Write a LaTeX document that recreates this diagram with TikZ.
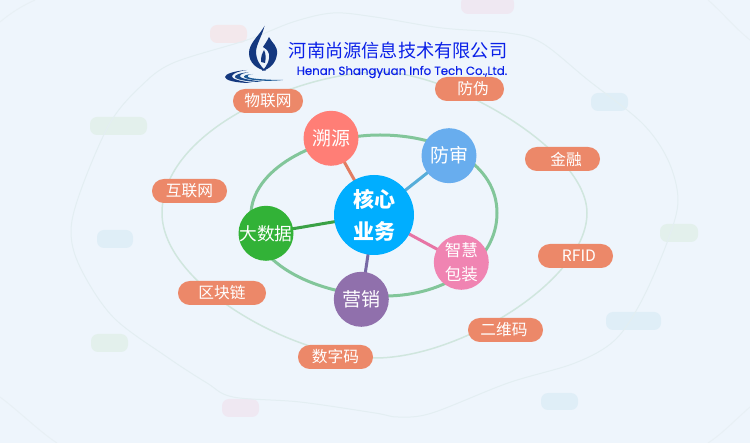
\documentclass[tikz,border=0pt]{standalone}
\usepackage{fontspec}
\setmainfont{Noto Sans CJK SC}
\newfontfamily\logolat[FakeBold=0.35]{Poppins}
\definecolor{bgc}{HTML}{EEF5FC}
\definecolor{pill}{HTML}{EC8869}
\definecolor{ringc}{HTML}{82C69A}
\definecolor{midring}{HTML}{D0E6DE}
\definecolor{outring}{HTML}{E3EEF2}
\definecolor{cornerc}{HTML}{E8F0F5}
\definecolor{logob}{HTML}{0A20E8}
\definecolor{navy}{HTML}{14387F}
\definecolor{teal}{HTML}{2FA6C8}
\definecolor{ghostr}{HTML}{F3E8EC}
\definecolor{ghostg}{HTML}{E3F0EC}
\definecolor{ghostb}{HTML}{DFEEF7}
\definecolor{ghostp}{HTML}{EFE8F2}
\definecolor{hcore}{HTML}{00AEFF}
\definecolor{hsy}{HTML}{FF7E76}
\definecolor{hfs}{HTML}{68ADEE}
\definecolor{hzh}{HTML}{F084B2}
\definecolor{hyx}{HTML}{9070AC}
\definecolor{hds}{HTML}{32B237}
\definecolor{ssy}{HTML}{E27D62}
\definecolor{sfs}{HTML}{56ADD9}
\definecolor{szh}{HTML}{E774A5}
\definecolor{syx}{HTML}{7769A5}
\definecolor{sds}{HTML}{3AA145}
\pgfdeclarelayer{bg}
\pgfsetlayers{bg,main}
\tikzset{
  hub/.style={circle,fill=#1,minimum size=55pt,inner sep=-8pt,text=white,align=center},
  tagbox/.style={fill=pill,rounded corners=11.9pt,minimum height=24pt,inner sep=0pt,text=white,font=\fontsize{15.7}{16}\selectfont},
  ghost/.style={rounded corners=7pt,draw=none},
  spoke/.style={line width=3pt},
  swirl/.style={draw=none},
}
\begin{document}
\begin{tikzpicture}[x=1pt,y=-1pt]
\useasboundingbox (0,0) rectangle (750,443);
% hubs
\node[hub=hcore,minimum size=80pt,font=\fontsize{21}{32}\selectfont\bfseries] (core) at (374,215) {核心\\业务};
\node[hub=hsy,font=\fontsize{19}{24}\selectfont] (sy) at (331,138.3) {溯源};
\node[hub=hfs,font=\fontsize{19}{24}\selectfont] (fs) at (449,155.7) {防审};
\node[hub=hzh,font=\fontsize{16.5}{24}\selectfont] (zh) at (461.3,262.3) {\raisebox{-3pt}{智慧}\\\raisebox{-3pt}{包装}};
\node[hub=hyx,font=\fontsize{19}{24}\selectfont] (yx) at (361.3,299.3) {营销};
\node[hub=hds,font=\fontsize{17.7}{24}\selectfont] (ds) at (266,233.3) {大数据};
% tags
\node[tagbox,minimum width=70pt] (t1) at (268,101) {物联网};
\node[tagbox,minimum width=75pt] (t2) at (189.5,191) {互联网};
\node[tagbox,minimum width=88pt] (t3) at (222,293) {区块链};
\node[tagbox,minimum width=75pt] (t4) at (335.5,357) {数字码};
\node[tagbox,minimum width=69pt] (t5) at (469.5,89) {\hspace*{7pt}防伪};
\node[tagbox,minimum width=75pt] (t6) at (562.5,159) {\hspace*{7pt}金融};
\node[tagbox,minimum width=75pt] (t7) at (575.5,256) {\hspace*{7pt}RFID};
\node[tagbox,minimum width=75pt] (t8) at (505.5,330) {二维码\hspace*{3pt}};
% logo text
\node[text=logob,inner sep=0pt,font=\fontsize{18.2}{20}\selectfont] (lg1) at (398,51) {河南尚源信息技术有限公司};
\node[text=logob,inner sep=0pt,font=\logolat\fontsize{11.8}{12}\selectfont] (lg2) at (402,72) {Henan Shangyuan Info Tech Co.,Ltd.};
\begin{pgfonlayer}{bg}
\fill[bgc] (0,0) rectangle (750,443);
\draw[line width=1pt,color=cornerc] (0,22) .. controls (12,12) and (22,6) .. (35,0);
\draw[line width=1pt,color=cornerc] (0,397) .. controls (20,412) and (40,432) .. (57,443);
\draw[line width=1pt,color=cornerc] (708,0) .. controls (722,12) and (735,28) .. (750,40);
\draw[line width=1pt,color=cornerc] (750,407) .. controls (735,420) and (722,434) .. (708,443);
% ghost pills
\fill[ghost,fill=ghostr] (210,25) rectangle (247,43);
\fill[ghost,fill=ghostg] (90,117) rectangle (147,135);
\fill[ghost,fill=ghostb] (97,230) rectangle (133,248);
\fill[ghost,fill=ghostg] (91,334) rectangle (128,352);
\fill[ghost,fill=ghostp] (222,399) rectangle (259,417);
\fill[ghost,fill=ghostp] (461,-4) rectangle (514,14);
\fill[ghost,fill=ghostb] (591,93) rectangle (628,111);
\fill[ghost,fill=ghostg] (660,224) rectangle (698,242);
\fill[ghost,fill=ghostb] (606,312) rectangle (661,330);
\fill[ghost,fill=ghostb] (541,393) rectangle (578,410);
% rings
\draw[line width=1pt,color=outring] plot[smooth cycle,tension=0.55] coordinates {
(71,230)(82,187)(110,123)(140,87)(173,63)(247,40)(293,22)(333,13)(375,17)(442,28)(508,33)(542,43)(588,80)(642,123)(668,160)(678,200)(668,240)(642,300)(615,340)(575,363)(508,383)(432,413)(398,417)(375,413)(300,402)(233,397)(207,383)(167,357)(113,317)(80,267)};
\draw[line width=1.5pt,color=midring] (162,213) .. controls (162,130) and (300,72) .. (380,72)
 .. controls (450,72) and (587,150) .. (587,213)
 .. controls (587,280) and (460,358) .. (375,358)
 .. controls (295,358) and (162,285) .. (162,213) -- cycle;
\draw[line width=3pt,color=ringc] (251,215) .. controls (251,170) and (315,135) .. (380,135)
 .. controls (445,135) and (497,165) .. (497,213)
 .. controls (497,262) and (445,296) .. (385,296)
 .. controls (320,296) and (251,265) .. (251,215) -- cycle;
% spokes
\draw[spoke,color=ssy] (core.center) -- (sy.center);
\draw[spoke,color=sfs] (core.center) -- (fs.center);
\draw[spoke,color=szh] (core.center) -- (zh.center);
\draw[spoke,color=syx] (core.center) -- (yx.center);
\draw[spoke,color=sds] (core.center) -- (ds.center);
% logo mark
\shade[top color=navy,middle color=teal,bottom color=navy,swirl]
 (264.5,26) .. controls (259,36) and (249,43) .. (249,53) .. controls (249,63) and (257,69) .. (266,71)
 .. controls (260,66) and (256,60) .. (256,51) .. controls (257,43) and (262,36) .. (264.5,26) -- cycle;
\shade[top color=navy,middle color=teal,bottom color=navy,swirl]
 (269,37) .. controls (272,43) and (278,46) .. (277,54) .. controls (276,63) and (270,69) .. (262,71)
 .. controls (268,65) and (270,59) .. (269,54) .. controls (268,50) and (265,48) .. (263,47)
 .. controls (265,44) and (267,41) .. (269,37) -- cycle;
\fill[navy] (261,62) .. controls (261,56) and (262,53) .. (264,50) .. controls (266,54) and (266,58) .. (265,63) -- cycle;
\fill[navy] (247,70) .. controls (234,71) and (225,74) .. (225,77) .. controls (225,80) and (234,83) .. (252,83)
 .. controls (240,81) and (231,79) .. (232,76) .. controls (233,73) and (240,71) .. (247,70) -- cycle;
\fill[navy!85!teal] (249,72) .. controls (240,73) and (234,75) .. (235,77) .. controls (236,80) and (250,82) .. (262,82)
 .. controls (252,80) and (240,79) .. (240,76) .. controls (240,74) and (245,73) .. (249,72) -- cycle;
\fill[navy!70!teal] (253,74) .. controls (247,74) and (243,76) .. (244,77) .. controls (246,80) and (265,82) .. (283,80)
 .. controls (270,80) and (250,79) .. (248,77) .. controls (247,75) and (250,74) .. (253,74) -- cycle;
\end{pgfonlayer}
\end{tikzpicture}
\end{document}
